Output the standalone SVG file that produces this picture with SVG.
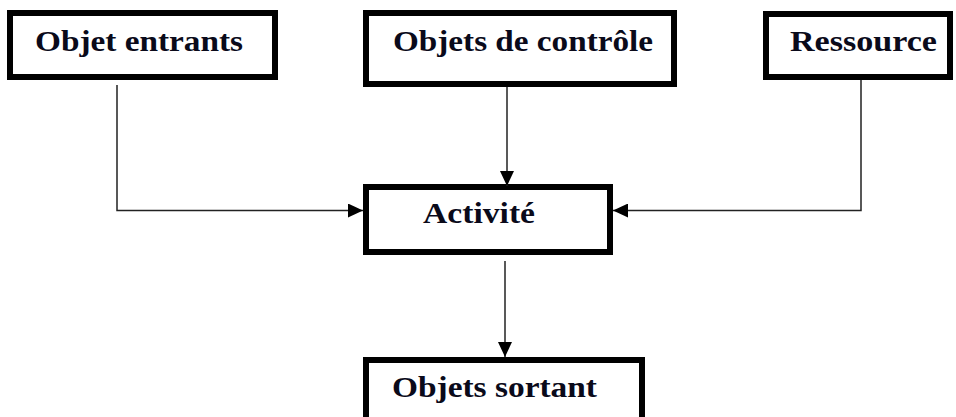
<svg xmlns="http://www.w3.org/2000/svg" width="956" height="417" viewBox="0 0 956 417">
<style>
.box{fill:#fff;stroke:#000;stroke-width:6}
.lbl{font-family:"Liberation Serif","Times New Roman",serif;font-weight:bold;font-size:30px;fill:#0a0a1a}
.con{fill:none;stroke:#222;stroke-width:1.5}
</style>
<defs>
<marker id="ah" markerUnits="userSpaceOnUse" markerWidth="15" markerHeight="14" refX="15" refY="7" orient="auto">
<path d="M0,0 L15,7 L0,14 Z" fill="#000"/>
</marker>
</defs>
<rect width="956" height="417" fill="#fff"/>
<g id="n1"><rect class="box" x="10" y="13" width="265" height="64"/><text class="lbl" x="35" y="51" textLength="208" lengthAdjust="spacingAndGlyphs">Objet entrants</text></g>
<g id="n2"><rect class="box" x="366" y="13" width="308" height="71"/><text class="lbl" x="393" y="51" textLength="260" lengthAdjust="spacingAndGlyphs">Objets de contrôle</text></g>
<g id="n3"><rect class="box" x="766" y="14" width="184" height="63"/><text class="lbl" x="790" y="51" textLength="147" lengthAdjust="spacingAndGlyphs">Ressource</text></g>
<g id="n4"><rect class="box" x="366" y="187" width="244" height="65"/><text class="lbl" x="423" y="223" textLength="112" lengthAdjust="spacingAndGlyphs">Activité</text></g>
<g id="n5"><rect class="box" x="366" y="360" width="276" height="70"/><text class="lbl" x="392" y="397" textLength="205" lengthAdjust="spacingAndGlyphs">Objets sortant</text></g>
<g id="connectors">
<path class="con" d="M117,85 V210.5 H363" marker-end="url(#ah)"/>
<path class="con" d="M507,87 V186" marker-end="url(#ah)"/>
<path class="con" d="M861,80 V210.5 H613" marker-end="url(#ah)"/>
<path class="con" d="M505,261 V357" marker-end="url(#ah)"/>
</g>
</svg>
